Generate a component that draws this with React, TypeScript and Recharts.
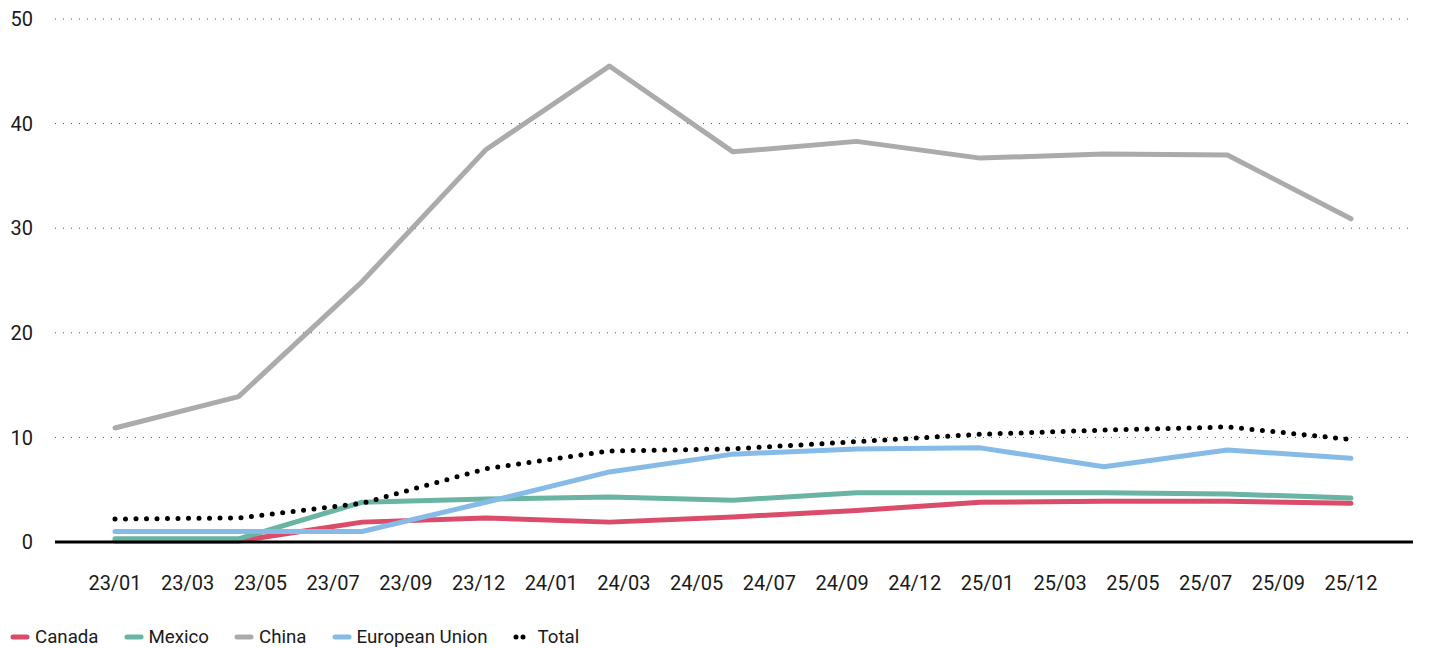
import { CartesianGrid, Line, LineChart, XAxis, YAxis } from "recharts";

// Period labels along the bottom axis
const periodLabels = [
  "23/01", "23/03", "23/05", "23/07", "23/09", "23/12",
  "24/01", "24/03", "24/05", "24/07", "24/09", "24/12",
  "25/01", "25/03", "25/05", "25/07", "25/09", "25/12",
];

// Observations, evenly spread from the first label to the last one
const canada = [0.1, 0.1, 1.9, 2.3, 1.9, 2.4, 3.0, 3.8, 3.9, 3.9, 3.7];
const mexico = [0.3, 0.3, 3.8, 4.1, 4.3, 4.0, 4.7, 4.7, 4.7, 4.6, 4.2];
const china = [10.9, 13.9, 24.9, 37.5, 45.5, 37.3, 38.3, 36.7, 37.1, 37.0, 30.9];
const europeanUnion = [1.0, 1.0, 1.0, 3.8, 6.7, 8.4, 8.9, 9.0, 7.2, 8.8, 8.0];
const total = [2.2, 2.3, 3.7, 7.0, 8.7, 8.9, 9.6, 10.3, 10.7, 11.0, 9.8];

const yTicks = [0, 10, 20, 30, 40, 50];

type SeriesDef = {
  key: string;
  label: string;
  stroke: string;
  dotted?: boolean;
};

const seriesDefs: SeriesDef[] = [
  { key: "canada", label: "Canada", stroke: "#da4c69" },
  { key: "mexico", label: "Mexico", stroke: "#69b4a2" },
  { key: "china", label: "China", stroke: "#ababab" },
  { key: "eu", label: "European Union", stroke: "#87bbe7" },
  { key: "total", label: "Total", stroke: "#000000", dotted: true },
];

const lastLabel = periodLabels.length - 1;
const step = lastLabel / (china.length - 1);

const rows = china.map((_, i) => ({
  x: i * step,
  canada: canada[i],
  mexico: mexico[i],
  china: china[i],
  eu: europeanUnion[i],
  total: total[i],
}));

const xTicks = periodLabels.map((_, i) => i);

const font = "Roboto, 'Noto Sans', sans-serif";

function ChartLegend() {
  return (
    <div
      style={{
        position: "absolute",
        left: 10,
        top: 626,
        display: "flex",
        alignItems: "center",
        fontFamily: font,
        fontSize: 18.7,
        color: "#1a1a1a",
      }}
    >
      {seriesDefs.map((s) => (
        <div key={s.key} style={{ display: "flex", alignItems: "center", marginRight: 25 }}>
          <svg width={20} height={10} style={{ marginRight: 5 }}>
            {s.dotted ? (
              <line x1={3} y1={5} x2={17} y2={5} stroke={s.stroke} strokeWidth={5}
                strokeDasharray="0 7" strokeLinecap="round" />
            ) : (
              <line x1={3} y1={5} x2={17} y2={5} stroke={s.stroke} strokeWidth={5}
                strokeLinecap="round" />
            )}
          </svg>
          <span>{s.label}</span>
        </div>
      ))}
    </div>
  );
}

export default function App() {
  return (
    <div style={{ position: "absolute", left: 0, top: 0, width: 1434, height: 648, background: "#fff" }}>
      <LineChart
        width={1434}
        height={620}
        data={rows}
        margin={{ top: 19, right: 21, bottom: 0, left: 0 }}
      >
        <CartesianGrid
          horizontal
          vertical={false}
          stroke="#555"
          strokeDasharray="1 7"
        />
        <XAxis
          dataKey="x"
          type="number"
          domain={[0, lastLabel]}
          ticks={xTicks}
          interval={0}
          tickFormatter={(v) => periodLabels[Math.round(Number(v))] ?? ""}
          padding={{ left: 60, right: 62 }}
          axisLine={{ stroke: "#000", strokeWidth: 3 }}
          tickLine={false}
          tickSize={0}
          tickMargin={34}
          height={78}
          tick={{ fill: "#1a1a1a", fontSize: 20, fontFamily: font }}
        />
        <YAxis
          type="number"
          domain={[0, 50]}
          ticks={yTicks}
          interval={0}
          axisLine={false}
          tickLine={false}
          tickSize={0}
          tickMargin={22}
          width={55}
          tick={{ fill: "#1a1a1a", fontSize: 20, fontFamily: font }}
        />
        {seriesDefs.map((s) => (
          <Line
            key={s.key}
            dataKey={s.key}
            type="linear"
            stroke={s.stroke}
            strokeWidth={5}
            strokeDasharray={s.dotted ? "0 10.5" : undefined}
            strokeLinecap="round"
            strokeLinejoin="round"
            dot={false}
            activeDot={false}
            isAnimationActive={false}
          />
        ))}
      </LineChart>
      <ChartLegend />
    </div>
  );
}
